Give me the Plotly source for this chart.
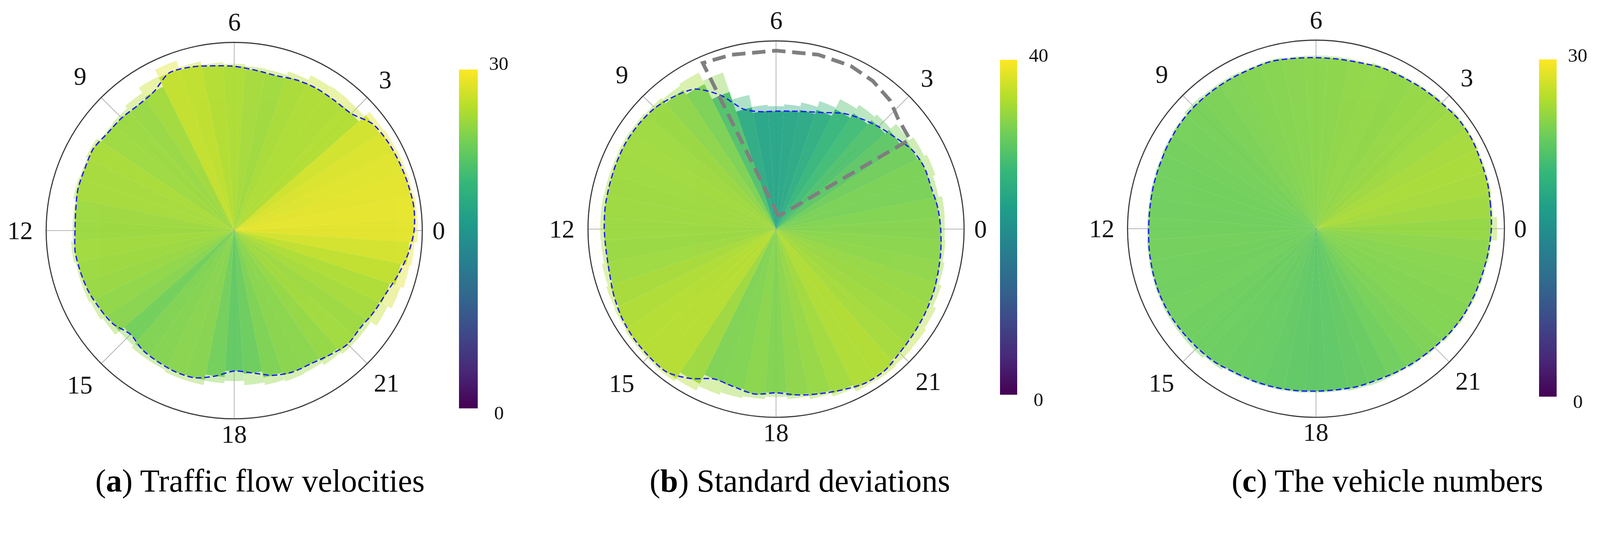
import math

import plotly.graph_objects as go

# reference size in screen pixels
W, H = 4290, 1369
# the viewer shows the page at about 1.05 zoom with the default 8px body margin,
# so the layout is worked out in screen pixels and converted to page pixels
SCALE = 1.049
MARGIN = 8
FIG_W = round(W / SCALE) - MARGIN
FIG_H = round(H / SCALE) - MARGIN


def fx(x):
    return (x / SCALE - MARGIN) / FIG_W


def fy(y):
    return 1 - (y / SCALE - MARGIN) / FIG_H


def px(v):
    return v / SCALE


# half-hour bins over one day (hour of day)
hours = [h / 2 for h in range(48)]
hour_ticks = [0, 3, 6, 9, 12, 15, 18, 21]

# (a) traffic flow velocity: mean per bin and the largest daily value
velocity_mean = [28.7, 28.9, 28.7, 28.5, 28.3, 27.9, 26.4, 26.2, 26.2, 26.0, 25.6, 25.8,
                 26.2, 26.5, 27.0, 27.2, 25.6, 25.2, 25.4, 25.5, 26.0, 25.8, 25.8, 25.5,
                 25.4, 25.6, 25.4, 25.2, 24.8, 24.4, 23.4, 24.0, 24.2, 24.4, 24.3, 23.4,
                 22.4, 22.9, 23.9, 24.4, 24.5, 25.0, 25.6, 25.4, 25.8, 26.2, 27.1, 28.0]
velocity_max = [29.3, 29.3, 29.1, 29.0, 28.9, 28.7, 27.6, 27.7, 27.6, 26.8, 26.2, 26.3,
                26.6, 26.9, 27.5, 28.6, 27.4, 26.4, 25.9, 25.8, 26.4, 26.1, 26.2, 25.8,
                25.8, 26.1, 25.8, 25.8, 25.6, 25.2, 24.4, 24.8, 24.8, 25.1, 25.1, 24.4,
                24.0, 24.7, 25.1, 25.4, 25.3, 25.8, 26.2, 26.2, 27.3, 28.0, 28.5, 28.8]

# (b) standard deviations
std_mean = [32.4, 32.1, 31.6, 31.6, 31.0, 29.6, 28.5, 27.4, 26.3, 24.8, 23.9, 23.4,
            23.2, 23.3, 24.4, 28.5, 31.8, 32.9, 33.7, 34.0, 34.1, 34.0, 33.9, 33.9,
            33.8, 33.7, 33.9, 34.5, 35.0, 35.3, 35.4, 35.4, 33.9, 31.9, 32.1, 32.7,
            32.2, 32.9, 33.5, 34.2, 35.0, 35.1, 34.4, 34.0, 33.7, 33.4, 33.0, 32.7]
std_max = [33.2, 33.3, 32.6, 33.1, 32.5, 31.4, 30.0, 29.4, 28.5, 26.6, 25.4, 24.6,
           24.2, 24.5, 26.9, 32.5, 34.3, 33.9, 34.3, 34.5, 34.6, 34.5, 34.5, 34.6,
           34.6, 34.5, 34.9, 35.3, 35.5, 35.8, 35.9, 36.0, 35.4, 34.4, 33.9, 33.5,
           33.0, 33.5, 34.1, 34.8, 35.6, 35.8, 35.6, 35.5, 35.1, 34.4, 33.8, 33.4]

# (c) vehicle numbers: bar length (scaled) and colour value
vehicles_mean = [24.2, 24.3, 24.5, 24.6, 24.8, 24.8, 24.5, 24.3, 24.1, 24.0, 23.7, 23.6,
                 23.6, 23.7, 23.9, 23.8, 23.8, 23.8, 23.8, 23.7, 23.5, 23.3, 23.2, 23.1,
                 23.1, 23.2, 23.3, 23.4, 23.4, 23.3, 23.2, 23.1, 22.8, 22.7, 22.6, 22.5,
                 22.4, 22.4, 22.5, 22.5, 22.7, 22.9, 23.1, 23.4, 23.6, 23.7, 23.8, 24.0]
vehicles_max = [25.0, 24.5, 24.7, 24.8, 25.0, 25.0, 24.7, 24.5, 24.3, 24.2, 23.9, 23.9,
                23.9, 23.9, 24.1, 24.0, 24.1, 24.1, 24.2, 23.9, 23.7, 23.5, 23.4, 23.3,
                23.3, 23.4, 23.5, 23.6, 23.7, 23.7, 23.7, 23.4, 23.0, 22.9, 22.8, 22.7,
                22.6, 22.6, 22.8, 22.9, 22.9, 23.1, 23.3, 23.6, 23.8, 23.9, 24.0, 24.2]
vehicles_level = [25.0, 25.5, 25.8, 26.0, 25.8, 25.5, 25.2, 25.0, 24.8, 24.9, 24.8, 24.6,
                  24.5, 24.4, 24.3, 24.2, 24.0, 23.8, 23.6, 23.5, 23.4, 23.3, 23.3, 23.2,
                  23.3, 23.4, 23.3, 23.2, 23.3, 23.1, 23.0, 22.9, 22.8, 22.7, 22.5, 22.3,
                  22.2, 22.3, 22.5, 22.8, 23.2, 23.6, 23.9, 24.1, 24.2, 24.3, 24.4, 24.7]

# hand drawn highlight around the morning dip in (b): angle in degrees, radius in data units
highlight_theta = [79, 113.8, 104.4, 90, 76.4, 65.4, 56.8, 48.3, 42.3, 33.8, 79]
highlight_r = [2.6, 35.7, 35.4, 35.1, 35.3, 35.3, 34.8, 33.8, 32.4, 31.7, 2.6]

# distance of the hour labels from the centre, in screen pixels
label_dist = {0: 549, 3: 573, 6: 560, 9: 586, 12: 575, 15: 586, 18: 546, 21: 578}

panels = [
    dict(mean=velocity_mean, peak=velocity_max, level=velocity_mean, rmax=30, cmax=30,
         center=(629, 619), R=505, cbar=(1233, 186, 50, 910),
         top_lbl=(1340, 170), bot_lbl=(1340, 1108),
         caption="(<b>a</b>) Traffic flow velocities", cap_x=698),
    dict(mean=std_mean, peak=std_max, level=std_mean, rmax=37, cmax=40,
         center=(2084, 615), R=505, cbar=(2685, 161, 46, 899),
         top_lbl=(2789, 148), bot_lbl=(2789, 1073),
         caption="(<b>b</b>) Standard deviations", cap_x=2148),
    dict(mean=vehicles_mean, peak=vehicles_max, level=vehicles_level, rmax=26, cmax=30,
         center=(3534, 614), R=506, cbar=(4133, 160, 47, 905),
         top_lbl=(4237, 148), bot_lbl=(4237, 1078),
         caption="(<b>c</b>) The vehicle numbers", cap_x=3726),
]

SERIF = "Liberation Serif"
deg = [h * 15 for h in hours]

fig = go.Figure()
annotations = []

for i, p in enumerate(panels):
    name = "polar" if i == 0 else f"polar{i + 1}"
    cx, cy = p["center"]
    R = p["R"]
    # colour of the light bars follows their own value, shifted like the mean bars
    peak_level = [lv + (pk - mn) for lv, pk, mn in zip(p["level"], p["peak"], p["mean"])]

    # lighter bars: the highest values of the day
    fig.add_trace(go.Barpolar(
        r=p["peak"], theta=deg, width=[7.5] * len(deg),
        marker=dict(color=peak_level, colorscale="Viridis", cmin=0, cmax=p["cmax"],
                    line=dict(width=0)),
        opacity=0.4, subplot=name, showlegend=False, hoverinfo="skip",
    ))

    cb_x, cb_top, cb_w, cb_len = p["cbar"]
    fig.add_trace(go.Barpolar(
        r=p["mean"], theta=deg, width=[7.5] * len(deg),
        marker=dict(
            color=p["level"], colorscale="Viridis", cmin=0, cmax=p["cmax"],
            line=dict(width=0), showscale=True,
            colorbar=dict(
                x=fx(cb_x), xanchor="left", y=fy(cb_top + cb_len / 2), yanchor="middle",
                thickness=px(cb_w), len=px(cb_len), lenmode="pixels", xpad=0, ypad=0,
                outlinewidth=0, showticklabels=False, ticks="",
            ),
        ),
        opacity=0.92, subplot=name, showlegend=False,
    ))

    # blue dashed mean curve
    fig.add_trace(go.Scatterpolar(
        r=p["mean"] + p["mean"][:1], theta=deg + [360], mode="lines",
        line=dict(color="#1c1cf0", width=px(3.5), dash=f"{px(15):.1f}px,{px(8):.1f}px",
                  shape="spline", smoothing=0.8),
        subplot=name, showlegend=False, hoverinfo="skip",
    ))

    if i == 1:
        fig.add_trace(go.Scatterpolar(
            r=highlight_r, theta=highlight_theta, mode="lines",
            line=dict(color="#7f7f7f", width=px(10), dash=f"{px(36):.1f}px,{px(18):.1f}px"),
            subplot=name, showlegend=False, hoverinfo="skip",
        ))

    fig.update_layout(**{name: dict(
        domain=dict(x=[fx(cx - R), fx(cx + R)], y=[fy(cy + R), fy(cy - R)]),
        bgcolor="white", barmode="overlay",
        radialaxis=dict(range=[0, p["rmax"]], showline=False, showgrid=False,
                        showticklabels=False, ticks=""),
        angularaxis=dict(
            rotation=0, direction="counterclockwise",
            tickmode="array", tickvals=[h * 15 for h in hour_ticks],
            showline=True, linecolor="#3a3a3a", linewidth=px(3),
            showgrid=True, gridcolor="#b4b4b4", gridwidth=px(2),
            ticks="", showticklabels=False,
        ),
    )})

    # hour labels round the dial
    for h in hour_ticks:
        a = math.radians(h * 15)
        d = label_dist[h]
        annotations.append(dict(
            x=fx(cx + d * math.cos(a)), y=fy(cy - d * math.sin(a)),
            xref="paper", yref="paper", text=str(h), showarrow=False,
            xanchor="center", yanchor="middle",
            font=dict(family=SERIF, size=px(68), color="#111111"),
        ))

    for (lx, ly), txt in [(p["top_lbl"], str(p["cmax"])), (p["bot_lbl"], "0")]:
        annotations.append(dict(
            x=fx(lx), y=fy(ly), xref="paper", yref="paper", text=txt,
            showarrow=False, xanchor="center", yanchor="middle",
            font=dict(family=SERIF, size=px(52), color="#111111"),
        ))
    annotations.append(dict(
        x=fx(p["cap_x"]), y=fy(1291), xref="paper", yref="paper", text=p["caption"],
        showarrow=False, xanchor="center", yanchor="middle",
        font=dict(family=SERIF, size=px(86), color="#000000"),
    ))

fig.update_layout(
    width=FIG_W, height=FIG_H,
    margin=dict(l=0, r=0, t=0, b=0),
    paper_bgcolor="white",
    plot_bgcolor="white",
    annotations=annotations,
)

fig.write_html("out.html")
